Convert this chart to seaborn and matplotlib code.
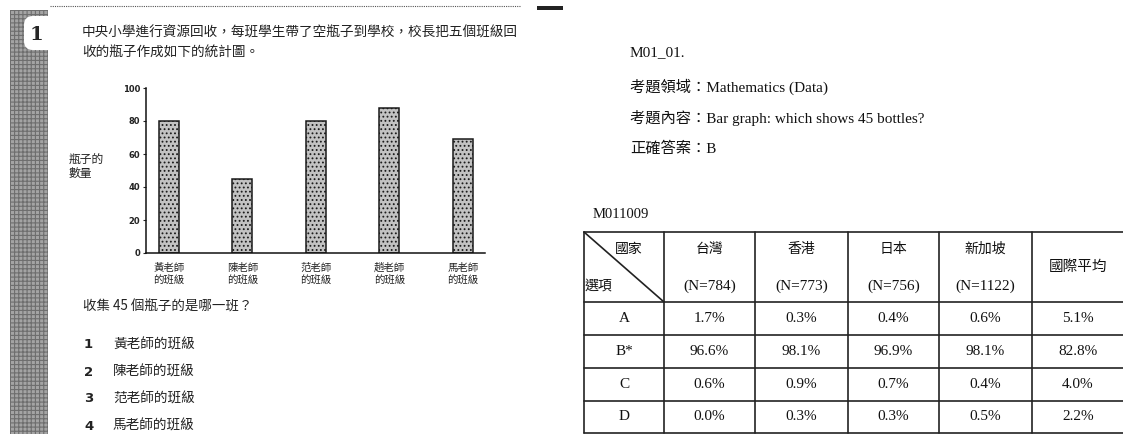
import numpy as np
import pandas as pd
import matplotlib
matplotlib.use('Agg')
import matplotlib.pyplot as plt
import seaborn as sns
from matplotlib.patches import Rectangle, FancyBboxPatch

# ---------------- data ----------------
classes = ['黃老師\n的班級', '陳老師\n的班級', '范老師\n的班級', '趙老師\n的班級', '馬老師\n的班級']
bottles = [80, 45, 80, 88, 69]
y_ticks = [0, 20, 40, 60, 80, 100]
y_label_lines = ['瓶子的', '數量']
question_lines = ['中央小學進行資源回收，每班學生帶了空瓶子到學校，校長把五個班級回',
                  '收的瓶子作成如下的統計圖。']
prompt = '收集 45 個瓶子的是哪一班？'
option_nums = ['1', '2', '3', '4']
option_texts = ['黃老師的班級', '陳老師的班級', '范老師的班級', '馬老師的班級']
item_no = '1'

item_id = 'M01_01.'
info_lines = ['考題領域：Mathematics (Data)',
              '考題內容：Bar graph: which shows 45 bottles?',
              '正確答案：B']
table_id = 'M011009'
country_names = ['台灣', '香港', '日本', '新加坡', '國際平均']
country_n = ['(N=784)', '(N=773)', '(N=756)', '(N=1122)', '']
answer_options = ['A', 'B*', 'C', 'D']
pct_taiwan = [1.7, 96.6, 0.6, 0.0]
pct_hongkong = [0.3, 98.1, 0.9, 0.3]
pct_japan = [0.4, 96.9, 0.7, 0.3]
pct_singapore = [0.6, 98.1, 0.4, 0.5]
pct_intl = [5.1, 82.8, 4.0, 2.2]

# ---------------- style ----------------
sns.set_style('white')
CJK = 'Noto Sans CJK TC'
plt.rcParams['font.family'] = [CJK, 'DejaVu Sans']
plt.rcParams['hatch.linewidth'] = 0.8
SERIF = ['Liberation Serif', CJK]

W, H = 1123, 434
fig = plt.figure(figsize=(W / 100, H / 100), dpi=100)
fig.patch.set_facecolor('white')

# overlay axes in pixel coordinates (y down)
ov = fig.add_axes([0, 0, 1, 1])
ov.set_xlim(0, W)
ov.set_ylim(H, 0)
ov.axis('off')

# left textured strip
ov.add_patch(Rectangle((10, 10), 38, H, facecolor='#a4a4a4', edgecolor='#6e6e6e',
                       hatch='++++', lw=0, zorder=1))
ov.add_patch(FancyBboxPatch((24, 16), 40, 34, boxstyle='round,pad=0,rounding_size=9',
                            facecolor='white', edgecolor='none', zorder=2))
ov.text(36, 35, item_no, fontsize=14, fontweight='bold', family='DejaVu Serif',
        ha='center', va='center', zorder=3)

# top dotted rule and black mark
ov.plot([50, 521], [6, 6], color='#555555', lw=0.8, ls=(0, (1, 1)), zorder=2)
ov.add_patch(Rectangle((537, 6), 26, 4, facecolor='#222222', edgecolor='none', zorder=2))

# question text
for i, line in enumerate(question_lines):
    ov.text(82, 33 + 20 * i, line, fontsize=9.8, ha='left', va='center', color='#222222')
ov.text(83, 307, prompt, fontsize=9.7, ha='left', va='center', color='#222222')
for i, (n, t) in enumerate(zip(option_nums, option_texts)):
    y = 345 + 27 * i
    ov.text(84, y, n, fontsize=9.5, fontweight='bold', family='DejaVu Sans',
            ha='left', va='center', color='#222222')
    ov.text(113, y, t, fontsize=9.8, ha='left', va='center', color='#222222')

# y label of chart
for i, line in enumerate(y_label_lines):
    ov.text(69, 160 + 13 * i, line, fontsize=8.5, ha='left', va='center', color='#222222')

# ---------------- bar chart ----------------
ax = fig.add_axes([146 / W, (H - 253) / H, (485 - 146) / W, (253 - 88) / H])
ax.set_facecolor('none')
df = pd.DataFrame({'班級': classes, '瓶子的數量': bottles})
sns.barplot(data=df, x='班級', y='瓶子的數量', ax=ax, color='#c2c2c2', saturation=1,
            width=0.272, edgecolor='#1a1a1a', linewidth=1.1, hatch='....')
ax.set_ylim(0, 100)
ax.set_xlim(-0.313, 4.3)
ax.set_yticks(y_ticks)
ax.set_yticklabels([str(v) for v in y_ticks], fontsize=6, fontweight='bold',
                   family='DejaVu Sans', color='#222222')
ax.tick_params(axis='y', length=2, width=0.8, pad=2, left=True, direction='out')
ax.tick_params(axis='x', length=0, pad=7, labelsize=7.5)
for lbl in ax.get_xticklabels():
    lbl.set_linespacing(1.2)
    lbl.set_color('#222222')
ax.set_xlabel('')
ax.set_ylabel('')
for s in ['top', 'right']:
    ax.spines[s].set_visible(False)
for s in ['left', 'bottom']:
    ax.spines[s].set_color('#111111')
    ax.spines[s].set_linewidth(1.1)

# ---------------- right panel ----------------
ov.text(630, 53, item_id, fontsize=11, family=SERIF, ha='left', va='center', color='#111111')
for i, line in enumerate(info_lines):
    ov.text(630, 87 + 31 * i, line, fontsize=11, family=SERIF, ha='left', va='center',
            color='#111111')
ov.text(593, 215, table_id, fontsize=10.5, family=SERIF, ha='left', va='center', color='#111111')

col_edges = [584, 664, 755, 848, 939, 1032, 1150]
row_edges = [232, 302, 335, 368, 401, 433]
lc = '#222222'
for y in row_edges:
    ov.plot([col_edges[0], W], [y, y], color=lc, lw=1.2, zorder=2)
for x in col_edges[:-1]:
    ov.plot([x, x], [row_edges[0], row_edges[-1]], color=lc, lw=1.2, zorder=2)
ov.plot([col_edges[0], col_edges[1]], [row_edges[0], row_edges[1]], color=lc, lw=1.2, zorder=2)
ov.text(629, 249, '國家', fontsize=10, ha='center', va='center', color='#111111')
ov.text(598, 286, '選項', fontsize=10, ha='center', va='center', color='#111111')

pct_cols = [pct_taiwan, pct_hongkong, pct_japan, pct_singapore, pct_intl]
centers = [(col_edges[i + 1] + col_edges[i + 2]) / 2 for i in range(4)] + [1078]
for j, (name, n) in enumerate(zip(country_names, country_n)):
    cx = centers[j]
    if n:
        ov.text(cx, 249, name, fontsize=10, ha='center', va='center', color='#111111')
        ov.text(cx, 286, n, fontsize=11, family=SERIF, ha='center', va='center',
                color='#111111')
    else:
        ov.text(cx, 267, name, fontsize=10.5, ha='center', va='center', color='#111111')

row_centers = [(row_edges[i + 1] + row_edges[i + 2]) / 2 for i in range(4)]
for i, opt in enumerate(answer_options):
    ov.text((col_edges[0] + col_edges[1]) / 2, row_centers[i], opt, fontsize=11,
            family=SERIF, ha='center', va='center', color='#111111')
    for j in range(5):
        ov.text(centers[j], row_centers[i], f'{pct_cols[j][i]:.1f}%', fontsize=11,
                family=SERIF, ha='center', va='center', color='#111111')

fig.savefig('out.png', dpi=100, facecolor='white')
